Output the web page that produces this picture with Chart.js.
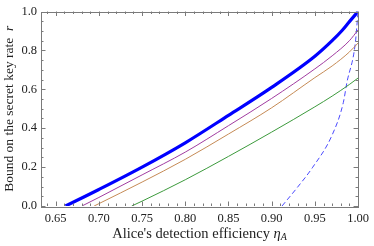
<!DOCTYPE html>
<html>
<head>
<meta charset="utf-8">
<script src="https://cdn.jsdelivr.net/npm/chart.js@4.4.0/dist/chart.umd.min.js"></script>
<style>
  html, body { margin: 0; padding: 0; background: #fff; }
  #wrap { width: 374px; height: 246px; }
</style>
</head>
<body>
<div id="wrap"><canvas id="keyChart" width="374" height="246"></canvas></div>
<script>
// tick values
var xTicks = [0.65, 0.70, 0.75, 0.80, 0.85, 0.90, 0.95, 1.00];
var yTicks = [0.0, 0.2, 0.4, 0.6, 0.8, 1.0];

// thick blue curve
var blueEta  = [0.6614, 0.70, 0.75, 0.80, 0.85, 0.90, 0.95, 0.97, 0.982, 0.99, 1.00];
var blueRate = [0.0, 0.085, 0.200, 0.325, 0.466, 0.610, 0.770, 0.850, 0.905, 0.948, 1.000];

// purple curve
var purpleEta  = [0.6804, 0.70, 0.75, 0.80, 0.85, 0.90, 0.95, 0.97, 0.99, 1.00];
var purpleRate = [0.0, 0.044, 0.160, 0.277, 0.413, 0.553, 0.705, 0.772, 0.850, 0.905];

// brown curve
var brownEta  = [0.6945, 0.70, 0.75, 0.80, 0.85, 0.90, 0.95, 0.97, 0.99, 1.00];
var brownRate = [0.0, 0.012, 0.123, 0.240, 0.370, 0.505, 0.660, 0.720, 0.792, 0.838];

// green curve
var greenEta  = [0.738, 0.75, 0.80, 0.85, 0.90, 0.95, 0.97, 0.99, 1.00];
var greenRate = [0.0, 0.025, 0.135, 0.255, 0.380, 0.510, 0.565, 0.625, 0.658];

// dashed blue curve
var dashEta  = [0.912, 0.930, 0.947, 0.970, 0.983, 0.987, 0.9966, 1.00];
var dashRate = [0.0, 0.097, 0.196, 0.365, 0.533, 0.633, 0.830, 1.000];

function pts(xs, ys) {
    return xs.map(function (v, i) { return { x: v, y: ys[i] }; });
}

var serif = '"Liberation Serif", "DejaVu Serif", serif';
Chart.defaults.font.family = serif;

// frame with inward ticks on all four sides, plus axis titles
var framePlugin = {
    id: 'frame',
    afterDraw: function (chart) {
        var ctx = chart.ctx, a = chart.chartArea;
        var xs = chart.scales.x, ys = chart.scales.y;
        ctx.save();
        ctx.strokeStyle = '#7a7a7a';
        ctx.lineWidth = 1;
        ctx.strokeRect(Math.round(a.left) + 0.5, Math.round(a.top) + 0.5,
            Math.round(a.right - a.left), Math.round(a.bottom - a.top));
        ctx.beginPath();
        for (var i = 60; i <= 100; i++) {
            var v = i / 100;
            if (v < xs.min) continue;
            var px = Math.round(xs.getPixelForValue(v)) + 0.5;
            var len = (i % 5 === 0) ? 4.5 : 2.5;
            ctx.moveTo(px, a.bottom); ctx.lineTo(px, a.bottom - len);
            ctx.moveTo(px, a.top); ctx.lineTo(px, a.top + len);
        }
        for (var j = 0; j <= 20; j++) {
            var py = Math.round(ys.getPixelForValue(j / 20)) + 0.5;
            var l2 = (j % 4 === 0) ? 4.5 : 2.5;
            ctx.moveTo(a.left, py); ctx.lineTo(a.left + l2, py);
            ctx.moveTo(a.right, py); ctx.lineTo(a.right - l2, py);
        }
        ctx.stroke();

        // x title with subscript
        ctx.fillStyle = '#222';
        ctx.textBaseline = 'alphabetic';
        var f1 = '14.5px ' + serif, f2 = 'italic 14.5px ' + serif, f3 = 'italic 10px ' + serif;
        var t1 = "Alice's detection efficiency ";
        ctx.font = f1; var w1 = ctx.measureText(t1).width;
        ctx.font = f2; var w2 = ctx.measureText('\u03b7').width;
        ctx.font = f3; var w3 = ctx.measureText('A').width;
        var x0 = (a.left + a.right) / 2 - (w1 + w2 + w3) / 2;
        var base = 238;
        ctx.font = f1; ctx.fillText(t1, x0, base);
        ctx.font = f2; ctx.fillText('\u03b7', x0 + w1, base);
        ctx.font = f3; ctx.fillText('A', x0 + w1 + w2, base + 2);

        // y title
        ctx.save();
        ctx.translate(13, (a.top + a.bottom) / 2);
        ctx.rotate(-Math.PI / 2);
        var g1 = '13.5px ' + serif, g2 = 'italic 13.5px ' + serif;
        var s1 = 'Bound on the secret key rate  ';
        ctx.font = g1; var v1 = ctx.measureText(s1).width;
        ctx.font = g2; var v2 = ctx.measureText('r').width;
        var y0 = -(v1 + v2) / 2;
        ctx.font = g1; ctx.fillText(s1, y0, 0);
        ctx.font = g2; ctx.fillText('r', y0 + v1, 0);
        ctx.restore();
        ctx.restore();
    }
};

function series(data, color, width, dash) {
    return {
        data: data,
        borderColor: color,
        borderWidth: width,
        borderDash: dash || [],
        pointRadius: 0,
        fill: false,
        showLine: true,
        cubicInterpolationMode: 'monotone'
    };
}

new Chart(document.getElementById('keyChart'), {
    type: 'scatter',
    data: {
        datasets: [
            series(pts(greenEta, greenRate), '#3c9a3c', 1),
            series(pts(brownEta, brownRate), '#c58a55', 1),
            series(pts(purpleEta, purpleRate), '#a03ca0', 1),
            series(pts(dashEta, dashRate), '#4a4aff', 1, [5, 3]),
            series(pts(blueEta, blueRate), '#0000ff', 3.2)
        ]
    },
    options: {
        responsive: false,
        animation: false,
        devicePixelRatio: 1,
        layout: { padding: { left: 0, right: 11, top: 7, bottom: 0 } },
        plugins: { legend: { display: false }, tooltip: { enabled: false } },
        scales: {
            x: {
                type: 'linear',
                min: 0.633,
                max: 1.0,
                border: { display: false },
                grid: { display: false, drawTicks: false },
                afterBuildTicks: function (s) { s.ticks = xTicks.map(function (v) { return { value: v }; }); },
                afterFit: function (s) { s.height = 40; },
                ticks: {
                    padding: 5,
                    color: '#222',
                    font: { family: serif, size: 12.5 },
                    maxRotation: 0,
                    autoSkip: false,
                    callback: function (v) { return Number(v).toFixed(2); }
                }
            },
            y: {
                min: 0,
                max: 1.0,
                border: { display: false },
                grid: { display: false, drawTicks: false },
                afterBuildTicks: function (s) { s.ticks = yTicks.map(function (v) { return { value: v }; }); },
                afterFit: function (s) { s.width = 41; },
                ticks: {
                    padding: 4,
                    color: '#222',
                    font: { family: serif, size: 12.5 },
                    autoSkip: false,
                    callback: function (v) { return Number(v).toFixed(1); }
                }
            }
        }
    },
    plugins: [framePlugin]
});
</script>
</body>
</html>
